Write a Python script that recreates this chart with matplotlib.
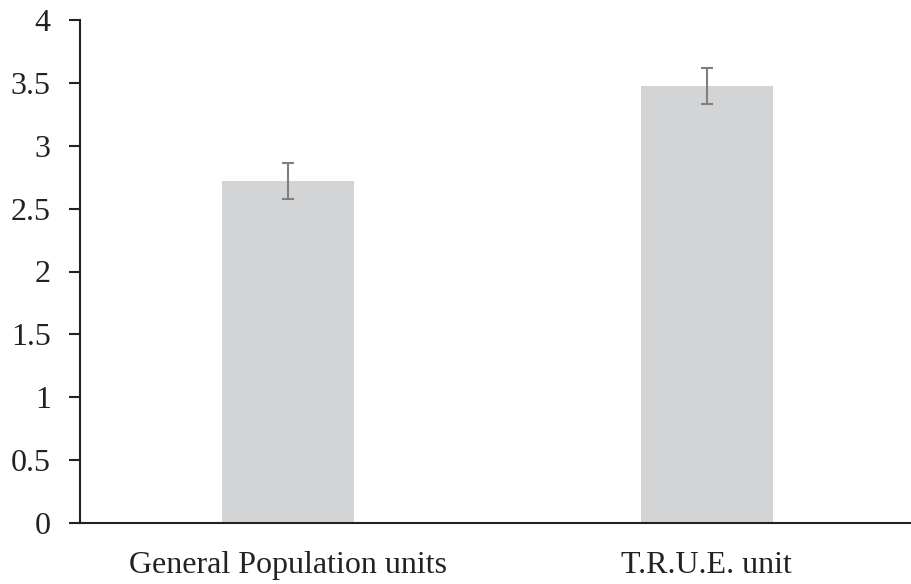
import matplotlib.pyplot as plt

categorias = ['General Population units', 'T.R.U.E. unit']
medias = [2.72, 3.475]
errores = [0.14, 0.14]
yticks = [0, 0.5, 1, 1.5, 2, 2.5, 3, 3.5, 4]
yticklabels = ['0', '0.5', '1', '1.5', '2', '2.5', '3', '3.5', '4']

plt.rcParams['font.family'] = ['Liberation Serif', 'DejaVu Serif']

fig = plt.figure(figsize=(9.12, 5.84), dpi=100)
ax = fig.add_axes([80 / 912, 1 - 523 / 584, 832 / 912, 503 / 584])

x = range(len(categorias))
ax.bar(x, medias, width=0.315, color='#d3d4d6', zorder=2)
ax.errorbar(x, medias, yerr=errores, fmt='none', ecolor='#7f7f7f',
            elinewidth=1.5, capsize=4, capthick=1.5, zorder=3)

ax.set_xlim(-0.497, 1.49)
ax.set_ylim(0, 4)
ax.set_yticks(yticks)
ax.set_yticklabels(yticklabels)
ax.set_xticks(list(x))
ax.set_xticklabels(categorias)

ax.spines['top'].set_visible(False)
ax.spines['right'].set_visible(False)
ax.spines['left'].set_linewidth(1.5)
ax.spines['bottom'].set_linewidth(1.5)
ax.spines['left'].set_color('#222222')
ax.spines['bottom'].set_color('#222222')

ax.tick_params(axis='y', direction='out', length=8, width=1.5, color='#222222',
               labelsize=23, pad=13, labelcolor='#222222')
ax.tick_params(axis='x', length=0, labelsize=23, pad=20, labelcolor='#222222')

fig.savefig('out.png', dpi=100)
